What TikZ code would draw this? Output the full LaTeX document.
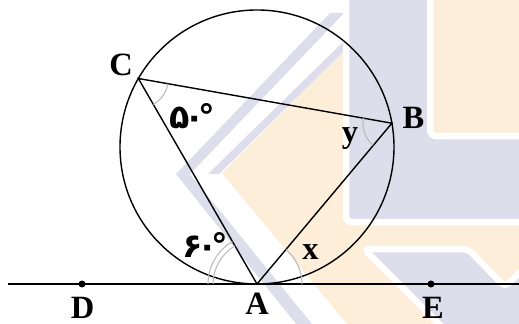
\documentclass[tikz,border=0pt]{standalone}
\usepackage{fontspec}
\setmainfont{Liberation Serif}
\newfontfamily\persianfont[Script=Arabic]{DejaVu Sans}
\usetikzlibrary{calc}
\definecolor{wmlav}{RGB}{221,221,235}
\definecolor{wmpeach}{RGB}{253,238,218}
\begin{document}
\begin{tikzpicture}[geo/.style={line width=0.8pt}, angarc/.style={gray!55, line width=0.6pt},
    ptlabel/.style={font=\fontsize{18.5}{20}\selectfont\bfseries, inner sep=0pt},
    varlabel/.style={font=\fontsize{18.5}{20}\selectfont\bfseries, inner sep=0pt, anchor=base},
    deglabel/.style={font=\persianfont\fontsize{19}{21}\selectfont\bfseries, inner sep=0pt, anchor=base west},
    wmbox/.style={draw=white, line width=0.13cm, rounded corners=0.12cm}]
\useasboundingbox (-5.14,-0.8) rectangle (5.24,5.68);
% watermark in the background
\begin{scope}[shift={(-5.14cm,5.68cm)}, x=0.02cm, y=-0.02cm]
    \fill[wmpeach] (222,173) -- (345,50) -- (519,50) -- (519,324) -- (347,324) -- cycle;
    \fill[wmlav] (330,13) -- (344,13) -- (190,174) -- (312,324) -- (296,324) -- (176,174) -- cycle;
    \fill[wmlav] (343,42) -- (343,52) -- (219,174) -- (208,174) -- cycle;
    \filldraw[wmlav, wmbox] (346,-20) rectangle (540,222);
    \filldraw[wmpeach, wmbox] (430,-20) rectangle (540,136);
    \filldraw[wmlav, wmbox] (364,249) -- (468,249) -- (505,287) -- (540,252) -- (540,340) -- (455,340) -- cycle;
\end{scope}
% points
\coordinate (A) at (0,0);
\coordinate (O) at (0,2.74);
\coordinate (C) at ($(O)+(150:2.74)$);
\coordinate (B) at ($(O)+(10:2.74)$);
\coordinate (D) at (-3.5,0);
\coordinate (E) at (3.48,0);
\coordinate (Lend) at (-4.98,0);
\coordinate (Rend) at (5.3,0);
% circle, tangent and triangle
\draw[geo] (O) circle (2.74);
\draw[geo] (Lend) -- (Rend);
\draw[geo, line join=miter] (A) -- (C) -- (B) -- cycle;
\fill (D) circle (0.07);
\fill (E) circle (0.07);
% angle marks
\draw[angarc] ($(C)+(-60:0.6)$) arc[start angle=-60, end angle=-10, radius=0.6];
\draw[angarc] ($(B)+(170:0.58)$) arc[start angle=170, end angle=230, radius=0.58];
\draw[angarc] ($(A)+(0:0.9)$) arc[start angle=0, end angle=50, radius=0.9];
\draw[angarc] ($(A)+(120:0.88)$) arc[start angle=120, end angle=180, radius=0.88];
\draw[angarc] ($(A)+(120:0.98)$) arc[start angle=120, end angle=180, radius=0.98];
% labels
\node[ptlabel] (labC) at (-2.72,4.38) {C};
\node[ptlabel] (labB) at (3.13,3.33) {B};
\node[ptlabel] (labA) at (0,-0.40) {A};
\node[ptlabel] (labD) at (-3.49,-0.47) {D};
\node[ptlabel] (labE) at (3.52,-0.47) {E};
\node[varlabel] (labx) at (1.07,0.48) {x};
\node[varlabel] (laby) at (1.86,2.82) {y};
\node[deglabel] (angC) at (-1.76,3.11) {۵\kern-3pt۰\kern-3.5pt°};
\node[deglabel] (angA) at (-1.50,0.53) {۶\kern-3pt۰\kern-3.5pt°};
\end{tikzpicture}
\end{document}
